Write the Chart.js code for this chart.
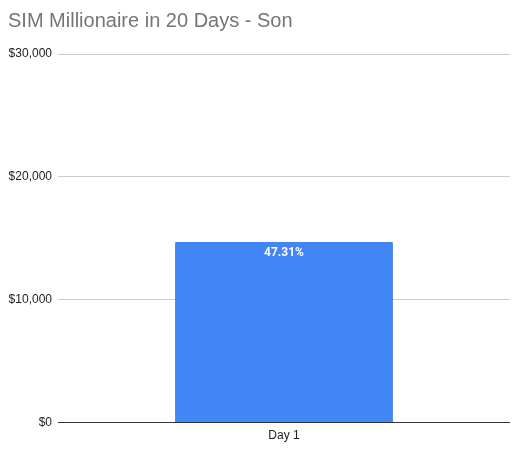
<!DOCTYPE html>
<html>
<head>
<meta charset="utf-8">
<script src="https://cdn.jsdelivr.net/npm/chart.js@4"></script>
<style>
html,body{margin:0;padding:0;background:#fff;}
#wrap{width:527px;height:449px;}
</style>
</head>
<body>
<div id="wrap"><canvas id="c" width="527" height="449"></canvas></div>
<script>
const chartTitle = 'SIM Millionaire in 20 Days - Son';
const categories = ['Day 1'];
const values = [14700];
const barLabels = ['47.31%'];
const yTicks = [0, 10000, 20000, 30000];

const barLabelPlugin = {
  id: 'barLabel',
  afterDatasetsDraw(chart) {
    const ctx = chart.ctx;
    const meta = chart.getDatasetMeta(0);
    ctx.save();
    ctx.fillStyle = '#ffffff';
    ctx.font = 'bold 12px Roboto, Arial, sans-serif';
    ctx.textAlign = 'center';
    ctx.textBaseline = 'middle';
    meta.data.forEach((bar, i) => {
      ctx.fillText(barLabels[i], bar.x, bar.y + 11);
    });
    ctx.restore();
  }
};

new Chart(document.getElementById('c'), {
  type: 'bar',
  data: {
    labels: categories,
    datasets: [{
      data: values,
      backgroundColor: '#4285f4',
      borderWidth: 0,
      borderRadius: 1,
      categoryPercentage: 1,
      barPercentage: 0.482
    }]
  },
  options: {
    responsive: false,
    animation: false,
    devicePixelRatio: 1,
    layout: { padding: { left: 8, right: 17, top: 0, bottom: 0 } },
    plugins: {
      legend: { display: false },
      tooltip: { enabled: false },
      title: {
        display: true,
        text: chartTitle,
        align: 'start',
        color: '#757575',
        font: { family: 'Arial, "Liberation Sans", sans-serif', size: 20, weight: 'normal' },
        padding: { top: 9, bottom: 21 }
      }
    },
    scales: {
      x: {
        grid: { display: false, drawTicks: false },
        border: { display: false },
        ticks: {
          color: '#222',
          font: { family: 'Arial, "Liberation Sans", sans-serif', size: 12 },
          padding: 6
        }
      },
      y: {
        min: yTicks[0],
        max: yTicks[yTicks.length - 1],
        afterFit(scale) { scale.width = 50; },
        afterBuildTicks(scale) { scale.ticks = yTicks.map(v => ({ value: v })); },
        border: { display: false },
        grid: {
          drawTicks: false,
          color: (c) => c.tick && c.tick.value === 0 ? '#333333' : '#cccccc',
          lineWidth: 1
        },
        ticks: {
          color: '#222',
          padding: 6,
          font: { family: 'Arial, "Liberation Sans", sans-serif', size: 12 },
          callback: (v) => '$' + Number(v).toLocaleString('en-US')
        }
      }
    }
  },
  plugins: [barLabelPlugin]
});
</script>
</body>
</html>
